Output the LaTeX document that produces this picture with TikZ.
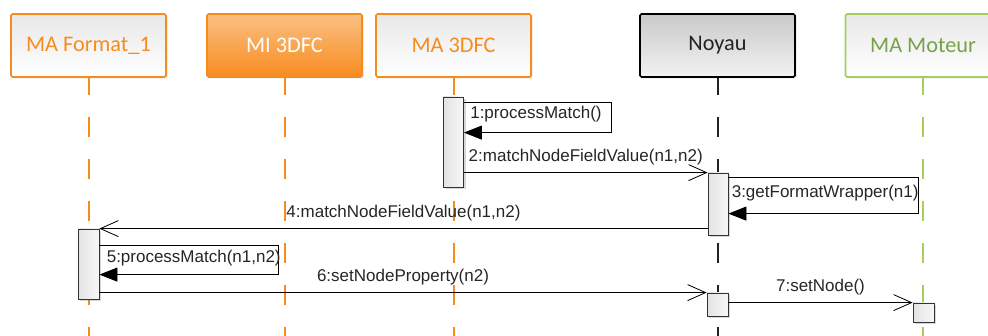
\documentclass[tikz,border=0pt]{standalone}
\usepackage{fontspec}
\setmainfont{Liberation Sans}
\newfontfamily\headfont{Carlito}
\usetikzlibrary{arrows.meta,shadows}
\definecolor{umlorange}{RGB}{247,140,30}
\definecolor{umlgreen}{RGB}{165,206,95}
\definecolor{umlgreentext}{RGB}{120,162,72}
\definecolor{umldark}{RGB}{35,35,35}
\begin{document}
\begin{tikzpicture}[
  x=1pt, y=-1pt,
  head/.style={
    draw=umlorange,
    line width=1.6pt,
    rounded corners=1.5pt,
    minimum width=155pt,
    minimum height=63pt,
    top color=gray!18,
    bottom color=white,
    text=umlorange,
    font=\headfont\fontsize{22.3}{25}\selectfont,
    drop shadow={opacity=0.2, shadow xshift=1.5pt, shadow yshift=-1.5pt}
  },
  lifeline/.style={
    draw=#1,
    line width=2pt,
    dash pattern=on 20pt off 22pt,
    dash phase=3pt
  },
  activ/.style={
    draw=gray!40!black,
    line width=0.8pt,
    minimum width=20pt,
    inner sep=0pt,
    left color=gray!22,
    right color=gray!6,
    drop shadow={opacity=0.3, shadow xshift=2pt, shadow yshift=-2pt}
  },
  msglabel/.style={
    inner sep=2pt,
    text=black!85,
    font=\fontsize{17}{20}\selectfont
  },
  msg/.style={
    line width=0.8pt,
    -{Straight Barb[length=18pt,width=16pt,line width=0.8pt]}
  },
  selfcall/.style={
    line width=0.8pt,
    -{Triangle[length=18pt,width=14pt]}
  }
]
\clip (0,0) rectangle (988,336);
\fill[white] (0,0) rectangle (988,336);

\node[head] (fmt) at (88.5,45.5) {MA Format\_1};
\node[head, top color=umlorange!55, bottom color=umlorange, text=white] (mi) at (284.5,45.5) {MI 3DFC};
\node[head] (ma) at (453.5,45.5) {MA 3DFC};
\node[head, draw=black, top color=gray!42, bottom color=gray!10, text=umldark] (noyau) at (717.5,45.5) {Noyau};
\node[head, draw=umlgreen, text=umlgreentext] (moteur) at (923,45.5) {MA Moteur};

\coordinate (fmt bottom) at (88.5,336);
\coordinate (mi bottom) at (284.5,336);
\coordinate (ma bottom) at (453.5,336);
\coordinate (noyau bottom) at (717.5,336);
\coordinate (moteur bottom) at (923,336);
\draw[lifeline=umlorange] (fmt.south) -- (fmt bottom);
\draw[lifeline=umlorange] (mi.south) -- (mi bottom);
\draw[lifeline=umlorange] (ma.south) -- (ma bottom);
\draw[lifeline=umldark] (noyau.south) -- (noyau bottom);
\draw[lifeline=umlgreen] (moteur.south) -- (moteur bottom);

\node[activ, minimum height=90pt] (ma act) at (453.5,142) {};
\node[activ, minimum height=62pt] (noyau act) at (718,204) {};
\node[activ, minimum width=21pt, minimum height=70pt] (fmt act) at (88.5,264) {};
\node[activ, minimum width=21pt, minimum height=23pt] (noyau act2) at (717.5,304.5) {};
\node[activ, minimum width=21pt, minimum height=19pt] (moteur act) at (923.5,312.5) {};

\draw[selfcall] ([yshift=-6pt]ma act.north east)
  node[msglabel, anchor=north west, xshift=4pt, yshift=-1pt] {1:processMatch()}
  -- ++(147,0) |- ([yshift=-36pt]ma act.north east);
\draw[msg] (ma act.east |- noyau act.north) -- node[msglabel, above=5pt] {2:matchNodeFieldValue(n1,n2)} (noyau act.north west);
\draw[selfcall] ([yshift=-5pt]noyau act.north east)
  node[msglabel, anchor=north west, xshift=1pt, yshift=-5pt] {3:getFormatWrapper(n1)}
  -- ++(190,0) |- ([yshift=-41pt]noyau act.north east);
\draw[msg] (noyau act.west |- fmt act.north) -- node[msglabel, above=5pt] {4:matchNodeFieldValue(n1,n2)} (fmt act.north east);
\draw[selfcall] ([yshift=-17pt]fmt act.north east)
  node[msglabel, anchor=north west, xshift=5pt, yshift=-2pt] {5:processMatch(n1,n2)}
  -- ++(179,0) |- ([yshift=-46pt]fmt act.north east);
\draw[msg] (fmt act.east |- noyau act2.north) -- node[msglabel, above=5pt] {6:setNodeProperty(n2)} (noyau act2.north west);
\draw[msg] (noyau act2.east |- moteur act.north) -- node[msglabel, above=5pt] {7:setNode()} (moteur act.north west);
\end{tikzpicture}
\end{document}
